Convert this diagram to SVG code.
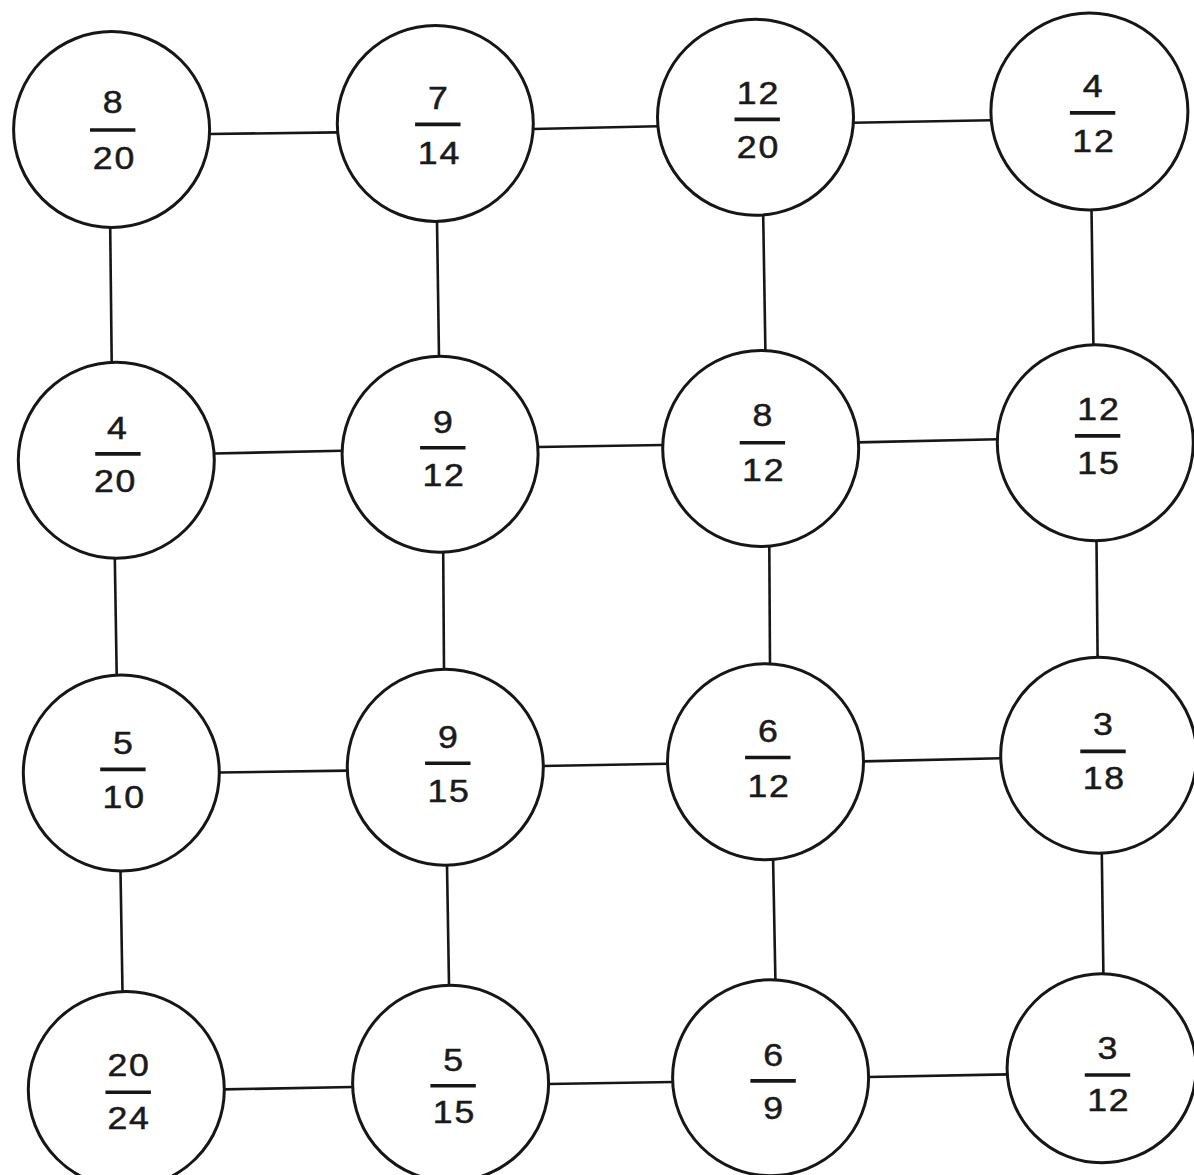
<svg xmlns="http://www.w3.org/2000/svg" width="1194" height="1175" viewBox="0 0 1194 1175">
<style>
.node circle{fill:#fff;stroke:#161616;stroke-width:3}
.bar{stroke:#161616;stroke-width:3.6}
.num{font-family:"Liberation Sans",Arial,sans-serif;font-size:31px;fill:#1a1a1a;stroke:#1a1a1a;stroke-width:0.5;text-anchor:middle}
#connectors line{stroke:#161616;stroke-width:2.6}
</style>
<rect width="1194" height="1175" fill="#fff"/>
<g id="connectors">
<line x1="209" y1="134" x2="338" y2="132.4"/>
<line x1="533" y1="129" x2="658" y2="126.3"/>
<line x1="853" y1="122.8" x2="991" y2="120.2"/>
<line x1="214" y1="453.5" x2="342" y2="450.8"/>
<line x1="538" y1="447" x2="663" y2="445"/>
<line x1="858" y1="442.4" x2="998" y2="439.3"/>
<line x1="219" y1="772.5" x2="348" y2="770.6"/>
<line x1="542" y1="766" x2="668" y2="763.7"/>
<line x1="863" y1="761.4" x2="1001" y2="758.3"/>
<line x1="224" y1="1089.4" x2="353" y2="1087"/>
<line x1="548" y1="1084" x2="673" y2="1082"/>
<line x1="868" y1="1077" x2="1008" y2="1074.4"/>
<line x1="110.2" y1="227" x2="111.7" y2="362"/>
<line x1="114.8" y1="558" x2="116.7" y2="675"/>
<line x1="120.5" y1="871" x2="122.5" y2="992"/>
<line x1="437" y1="221" x2="439" y2="357"/>
<line x1="443.2" y1="552" x2="444" y2="670"/>
<line x1="447" y1="865" x2="449" y2="985"/>
<line x1="763.2" y1="215" x2="765.4" y2="351"/>
<line x1="769.3" y1="546" x2="770" y2="664"/>
<line x1="773.1" y1="860" x2="775.4" y2="980"/>
<line x1="1091.5" y1="209" x2="1093.4" y2="345"/>
<line x1="1096.5" y1="541" x2="1097.6" y2="658"/>
<line x1="1101.8" y1="853" x2="1103.4" y2="975"/>
</g>
<g id="n-8-20" class="node"><circle cx="111.6" cy="129.6" r="98"/><line class="bar" x1="90" y1="130" x2="135.4" y2="130"/><text class="num" transform="translate(112.7 113) scale(1.15 1)">8</text><text class="num" transform="translate(113.5 169) scale(1.15 1)" x="-9.4 9.4">20</text></g>
<g id="n-7-14" class="node"><circle cx="435.3" cy="123.4" r="98"/><line class="bar" x1="415.1" y1="124.4" x2="460.5" y2="124.4"/><text class="num" transform="translate(437.8 108.5) scale(1.15 1)">7</text><text class="num" transform="translate(438.5 163.5) scale(1.15 1)" x="-9.4 9.4">14</text></g>
<g id="n-12-20" class="node"><circle cx="755.5" cy="117.3" r="98"/><line class="bar" x1="734.5" y1="119.4" x2="779.9" y2="119.4"/><text class="num" transform="translate(757.5 103.7) scale(1.15 1)" x="-9.4 9.4">12</text><text class="num" transform="translate(757.5 158.4) scale(1.15 1)" x="-9.4 9.4">20</text></g>
<g id="n-4-12" class="node"><circle cx="1089.4" cy="111.4" r="98.5"/><line class="bar" x1="1069.9" y1="112.9" x2="1115.3" y2="112.9"/><text class="num" transform="translate(1092.6 97.2) scale(1.15 1)">4</text><text class="num" transform="translate(1093 151.5) scale(1.15 1)" x="-9.4 9.4">12</text></g>
<g id="n-4-20" class="node"><circle cx="116.3" cy="460.2" r="98"/><line class="bar" x1="95.2" y1="453.9" x2="140.6" y2="453.9"/><text class="num" transform="translate(117 438.7) scale(1.15 1)">4</text><text class="num" transform="translate(114.7 491.5) scale(1.15 1)" x="-9.4 9.4">20</text></g>
<g id="n-9-12" class="node"><circle cx="440.1" cy="454.3" r="98"/><line class="bar" x1="420.1" y1="447.8" x2="465.5" y2="447.8"/><text class="num" transform="translate(442.8 432.8) scale(1.15 1)">9</text><text class="num" transform="translate(443.2 486.4) scale(1.15 1)" x="-9.4 9.4">12</text></g>
<g id="n-8-12" class="node"><circle cx="760.7" cy="448.5" r="98"/><line class="bar" x1="739.7" y1="442.8" x2="785.1" y2="442.8"/><text class="num" transform="translate(762.4 426.3) scale(1.15 1)">8</text><text class="num" transform="translate(762.8 481) scale(1.15 1)" x="-9.4 9.4">12</text></g>
<g id="n-12-15" class="node"><circle cx="1095.3" cy="442.8" r="98"/><line class="bar" x1="1074.9" y1="435.9" x2="1120.3" y2="435.9"/><text class="num" transform="translate(1098 419.8) scale(1.15 1)" x="-9.4 9.4">12</text><text class="num" transform="translate(1098 474) scale(1.15 1)" x="-9.4 9.4">15</text></g>
<g id="n-5-10" class="node"><circle cx="121.3" cy="773" r="98"/><line class="bar" x1="100.2" y1="769.4" x2="145.6" y2="769.4"/><text class="num" transform="translate(122.9 753.7) scale(1.15 1)">5</text><text class="num" transform="translate(123.3 808) scale(1.15 1)" x="-9.4 9.4">10</text></g>
<g id="n-9-15" class="node"><circle cx="445.3" cy="767.3" r="98"/><line class="bar" x1="425.1" y1="763.3" x2="470.5" y2="763.3"/><text class="num" transform="translate(447.8 747.6) scale(1.15 1)">9</text><text class="num" transform="translate(448.2 802.3) scale(1.15 1)" x="-9.4 9.4">15</text></g>
<g id="n-6-12" class="node"><circle cx="765.5" cy="761.8" r="98"/><line class="bar" x1="745.1" y1="757.5" x2="790.5" y2="757.5"/><text class="num" transform="translate(767.8 742.2) scale(1.15 1)">6</text><text class="num" transform="translate(768.2 796.6) scale(1.15 1)" x="-9.4 9.4">12</text></g>
<g id="n-3-18" class="node"><circle cx="1098.7" cy="755.2" r="98"/><line class="bar" x1="1080.3" y1="751.4" x2="1125.7" y2="751.4"/><text class="num" transform="translate(1103 735.3) scale(1.15 1)">3</text><text class="num" transform="translate(1103.4 789) scale(1.15 1)" x="-9.4 9.4">18</text></g>
<g id="n-20-24" class="node"><circle cx="126.3" cy="1089.5" r="98"/><line class="bar" x1="105.5" y1="1092.3" x2="150.9" y2="1092.3"/><text class="num" transform="translate(128.2 1076.3) scale(1.15 1)" x="-9.4 9.4">20</text><text class="num" transform="translate(128.2 1128.6) scale(1.15 1)" x="-9.4 9.4">24</text></g>
<g id="n-5-15" class="node"><circle cx="450.6" cy="1083.3" r="98"/><line class="bar" x1="430.4" y1="1085.7" x2="475.8" y2="1085.7"/><text class="num" transform="translate(453.1 1071.3) scale(1.15 1)">5</text><text class="num" transform="translate(453.5 1123) scale(1.15 1)" x="-9.4 9.4">15</text></g>
<g id="n-6-9" class="node"><circle cx="770.6" cy="1077.7" r="98"/><line class="bar" x1="750.4" y1="1080.9" x2="795.8" y2="1080.9"/><text class="num" transform="translate(773.1 1065.6) scale(1.15 1)">6</text><text class="num" transform="translate(773.1 1118.8) scale(1.15 1)">9</text></g>
<g id="n-3-12" class="node"><circle cx="1101.6" cy="1068.3" r="94.5"/><line class="bar" x1="1084.8" y1="1075" x2="1130.2" y2="1075"/><text class="num" transform="translate(1107.5 1059) scale(1.15 1)">3</text><text class="num" transform="translate(1107.9 1111.3) scale(1.15 1)" x="-9.4 9.4">12</text></g>
</svg>
